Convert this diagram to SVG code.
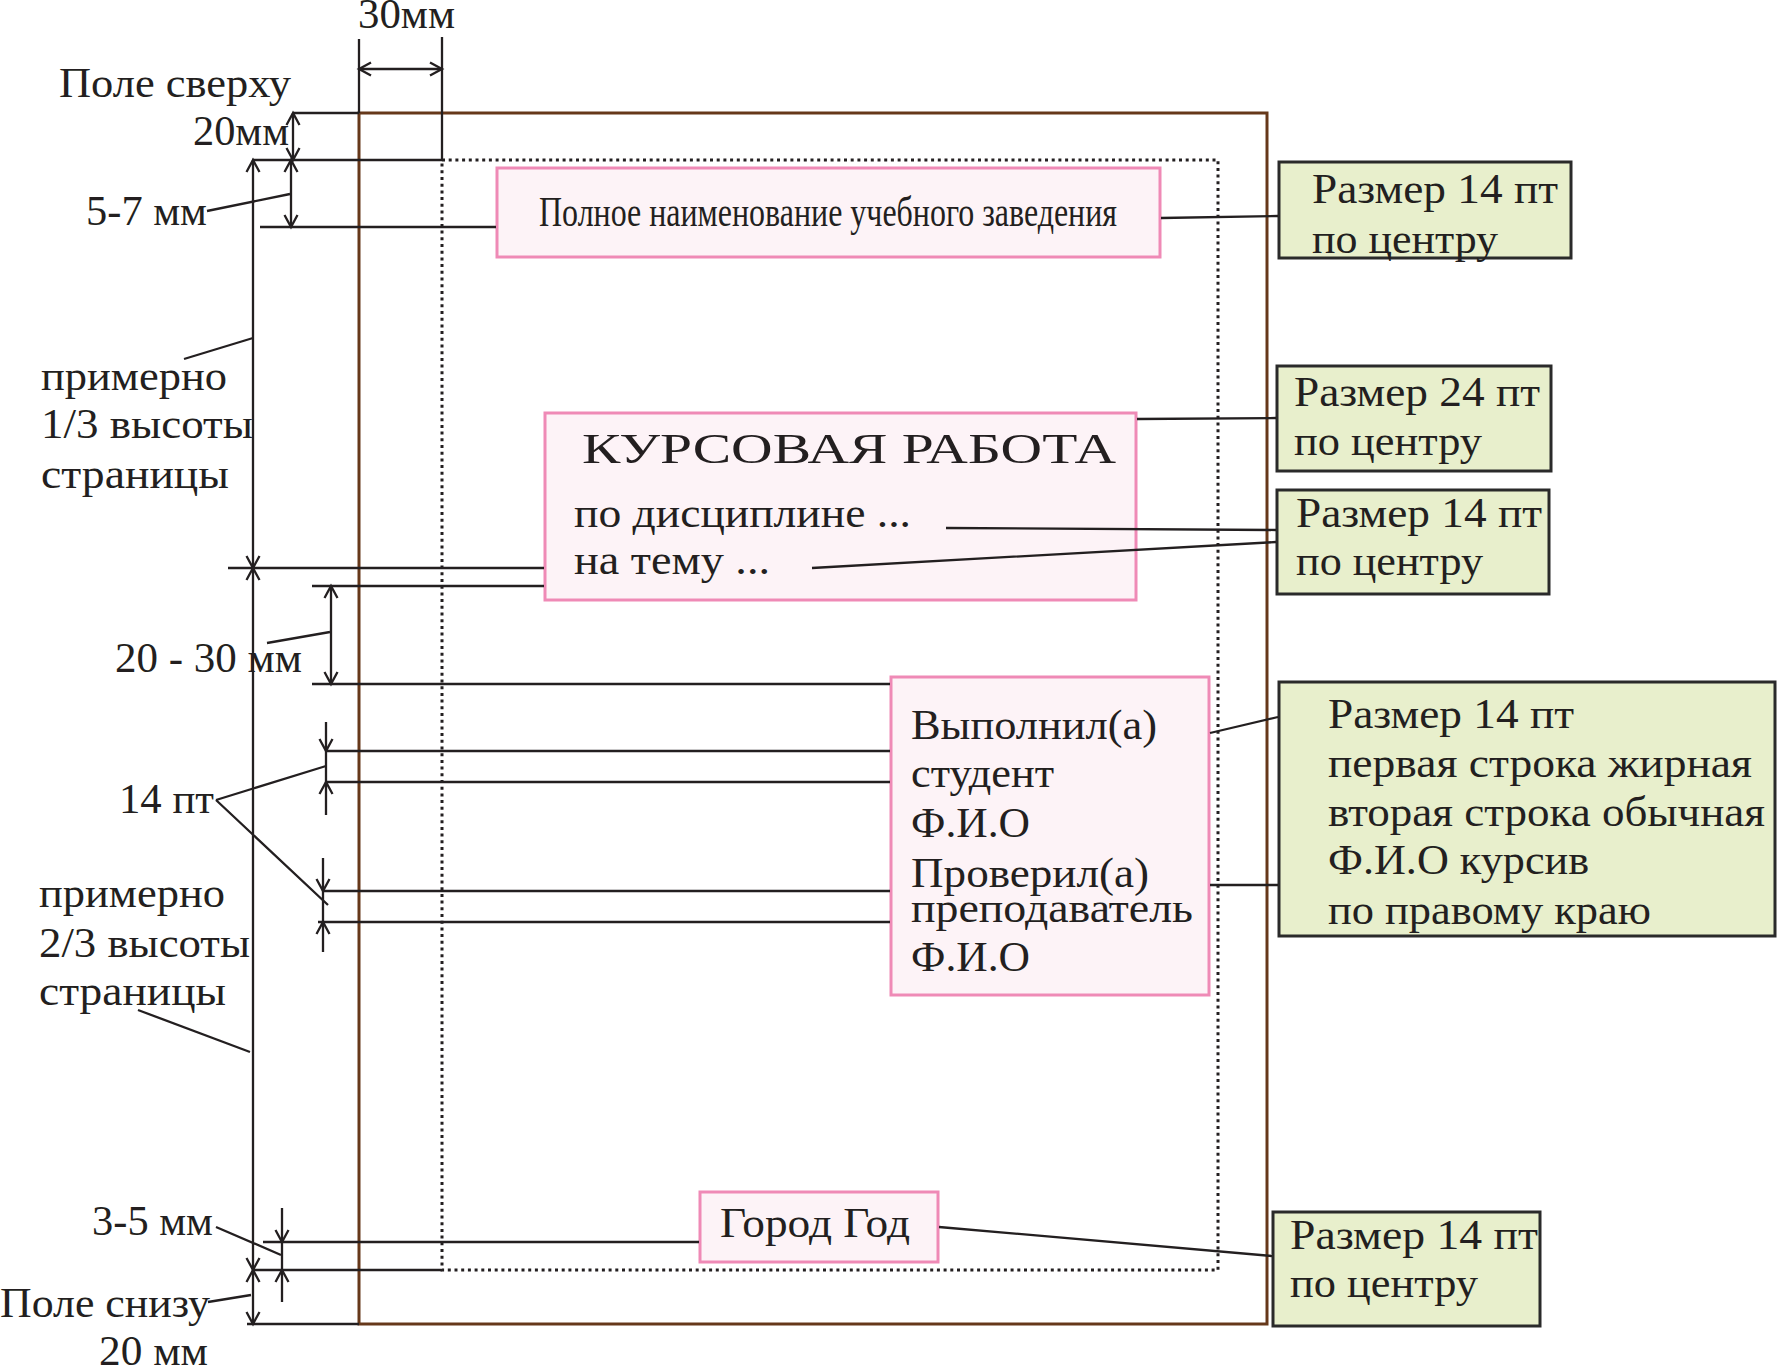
<svg xmlns="http://www.w3.org/2000/svg" width="1777" height="1368" viewBox="0 0 1777 1368">
<defs>
<style>
text{font-family:"Liberation Serif","DejaVu Serif",serif;fill:#231f20;font-size:42px}
.ln{fill:none;stroke:#231f20;stroke-width:2.3}
.ar{marker-start:url(#arr);marker-end:url(#arr)}
.ae{marker-end:url(#arr)}
.pink{fill:#fdf3f7;stroke:#ef8ab6;stroke-width:3}
.green{fill:#e8efcc;stroke:#2a2a2a;stroke-width:3}
</style>
<marker id="arr" markerUnits="userSpaceOnUse" orient="auto-start-reverse" overflow="visible" refX="0" refY="0" markerWidth="1" markerHeight="1">
<path d="M-12,-6.5 L0,0 L-12,6.5" fill="none" stroke="#231f20" stroke-width="2.3"/>
</marker>
</defs>
<rect width="1777" height="1368" fill="#fff"/>
<g id="page">
<rect x="359" y="113" width="908" height="1211" fill="none" stroke="#66381a" stroke-width="3"/>
<rect x="442" y="160" width="776" height="1110" fill="none" stroke="#231f20" stroke-width="3" stroke-dasharray="3 3.7"/>
</g>
<g id="labels">
<text x="358" y="28" font-size="38" textLength="97" lengthAdjust="spacingAndGlyphs">30мм</text>
<text x="59" y="97" font-size="44" textLength="232" lengthAdjust="spacingAndGlyphs">Поле сверху</text>
<text x="193" y="145" font-size="42" textLength="96" lengthAdjust="spacingAndGlyphs">20мм</text>
<text x="86" y="225" font-size="42" textLength="121" lengthAdjust="spacingAndGlyphs">5-7 мм</text>
<text x="41" y="390" font-size="42" textLength="186" lengthAdjust="spacingAndGlyphs">примерно</text>
<text x="41" y="438" font-size="42" textLength="212" lengthAdjust="spacingAndGlyphs">1/3 высоты</text>
<text x="41" y="488" font-size="42" textLength="188" lengthAdjust="spacingAndGlyphs">страницы</text>
<text x="115" y="672" font-size="41" textLength="187" lengthAdjust="spacingAndGlyphs">20 - 30 мм</text>
<text x="119" y="813" font-size="40" textLength="95" lengthAdjust="spacingAndGlyphs">14 пт</text>
<text x="39" y="907" font-size="42" textLength="186" lengthAdjust="spacingAndGlyphs">примерно</text>
<text x="39" y="957" font-size="42" textLength="211" lengthAdjust="spacingAndGlyphs">2/3 высоты</text>
<text x="39" y="1005" font-size="42" textLength="187" lengthAdjust="spacingAndGlyphs">страницы</text>
<text x="92" y="1235" font-size="41" textLength="121" lengthAdjust="spacingAndGlyphs">3-5 мм</text>
<text x="0" y="1317" font-size="42" textLength="210" lengthAdjust="spacingAndGlyphs">Поле снизу</text>
<text x="99" y="1365" font-size="42" textLength="109" lengthAdjust="spacingAndGlyphs">20 мм</text>
</g>
<g id="node-institution">
<rect class="pink" x="497" y="168" width="663" height="89"/>
<text x="539" y="226" font-size="27" textLength="578" lengthAdjust="spacingAndGlyphs">Полное наименование учебного заведения</text>
</g>
<g id="node-title">
<rect class="pink" x="545" y="413" width="591" height="187"/>
<text x="582" y="463" font-size="57" textLength="534" lengthAdjust="spacingAndGlyphs">КУРСОВАЯ РАБОТА</text>
<text x="574" y="527" font-size="40" textLength="337" lengthAdjust="spacingAndGlyphs">по дисциплине  ...</text>
<text x="574" y="574" font-size="40" textLength="196" lengthAdjust="spacingAndGlyphs">на тему  ...</text>
</g>
<g id="node-signatures">
<rect class="pink" x="891" y="677" width="318" height="318"/>
<text x="911" y="739" font-size="40" textLength="246" lengthAdjust="spacingAndGlyphs">Выполнил(а)</text>
<text x="911" y="787" font-size="40" textLength="143" lengthAdjust="spacingAndGlyphs">студент</text>
<text x="911" y="837" font-size="42" textLength="119" lengthAdjust="spacingAndGlyphs">Ф.И.О</text>
<text x="911" y="887" font-size="40" textLength="238" lengthAdjust="spacingAndGlyphs">Проверил(а)</text>
<text x="911" y="922" font-size="40" textLength="282" lengthAdjust="spacingAndGlyphs">преподаватель</text>
<text x="911" y="971" font-size="42" textLength="119" lengthAdjust="spacingAndGlyphs">Ф.И.О</text>
</g>
<g id="node-city">
<rect class="pink" x="700" y="1192" width="238" height="70"/>
<text x="720" y="1237" font-size="42" textLength="190" lengthAdjust="spacingAndGlyphs">Город Год</text>
</g>
<g id="note-1">
<rect class="green" x="1279" y="162" width="292" height="96"/>
<text x="1312" y="203" font-size="42" textLength="246" lengthAdjust="spacingAndGlyphs">Размер 14 пт</text>
<text x="1312" y="253" font-size="42" textLength="186" lengthAdjust="spacingAndGlyphs">по центру</text>
</g>
<g id="note-2">
<rect class="green" x="1277" y="366" width="274" height="105"/>
<text x="1294" y="406" font-size="42" textLength="246" lengthAdjust="spacingAndGlyphs">Размер 24 пт</text>
<text x="1294" y="455" font-size="42" textLength="188" lengthAdjust="spacingAndGlyphs">по центру</text>
</g>
<g id="note-3">
<rect class="green" x="1277" y="490" width="272" height="104"/>
<text x="1296" y="527" font-size="42" textLength="246" lengthAdjust="spacingAndGlyphs">Размер 14 пт</text>
<text x="1296" y="575" font-size="42" textLength="187" lengthAdjust="spacingAndGlyphs">по центру</text>
</g>
<g id="note-4">
<rect class="green" x="1279" y="682" width="496" height="254"/>
<text x="1328" y="728" font-size="40" textLength="246" lengthAdjust="spacingAndGlyphs">Размер 14 пт</text>
<text x="1328" y="777" font-size="40" textLength="424" lengthAdjust="spacingAndGlyphs">первая строка жирная</text>
<text x="1328" y="826" font-size="40" textLength="437" lengthAdjust="spacingAndGlyphs">вторая строка обычная</text>
<text x="1328" y="874" font-size="42" textLength="261" lengthAdjust="spacingAndGlyphs">Ф.И.О курсив</text>
<text x="1328" y="924" font-size="40" textLength="323" lengthAdjust="spacingAndGlyphs">по правому краю</text>
</g>
<g id="note-5">
<rect class="green" x="1273" y="1212" width="267" height="114"/>
<text x="1290" y="1249" font-size="42" textLength="248" lengthAdjust="spacingAndGlyphs">Размер 14 пт</text>
<text x="1290" y="1297" font-size="42" textLength="188" lengthAdjust="spacingAndGlyphs">по центру</text>
</g>
<g id="connectors">
<path class="ln" d="M359,39 V113 M442,37 V160 M293,113 H359 M252,160 H442 M260,227 H496"/>
<path class="ln ar" d="M359,69 H442"/>
<path class="ln ar" d="M293,113 V160"/>
<path class="ln ar" d="M291,160 V227"/>
<path class="ln" d="M207,211 L290,194"/>
<path class="ln" d="M1161,218 L1278,216"/>
<path class="ln ar" d="M253,160 V568"/>
<path class="ln" d="M184,359 L253,338"/>
<path class="ln" d="M228,568 H544 M312,586 H544 M312,684 H890"/>
<path class="ln ar" d="M331,586 V684"/>
<path class="ln" d="M267,643 L330,632"/>
<path class="ln" d="M1137,419 L1276,418 M946,528 L1276,530 M812,568 L1276,542"/>
<path class="ln ar" d="M253,568 V1270"/>
<path class="ln" d="M138,1010 L250,1052"/>
<path class="ln ae" d="M326,722 V751"/>
<path class="ln" d="M326,751 V782"/>
<path class="ln ae" d="M326,815 V782"/>
<path class="ln" d="M326,751 H890 M326,782 H890"/>
<path class="ln ae" d="M323,858 V891"/>
<path class="ln" d="M323,891 V922"/>
<path class="ln ae" d="M323,952 V922"/>
<path class="ln" d="M323,891 H890 M318,922 H890"/>
<path class="ln" d="M216,800 L326,766 M216,800 L328,905"/>
<path class="ln" d="M1210,733 L1278,717 M1210,885 H1278"/>
<path class="ln ae" d="M282,1208 V1242"/>
<path class="ln" d="M282,1242 V1270"/>
<path class="ln ae" d="M282,1302 V1270"/>
<path class="ln" d="M263,1242 H699 M253,1270 H442 M247,1324 H359"/>
<path class="ln ar" d="M253,1270 V1324"/>
<path class="ln" d="M216,1227 L281,1255 M208,1302 L251,1295"/>
<path class="ln" d="M939,1227 L1272,1256"/>
</g>
</svg>
